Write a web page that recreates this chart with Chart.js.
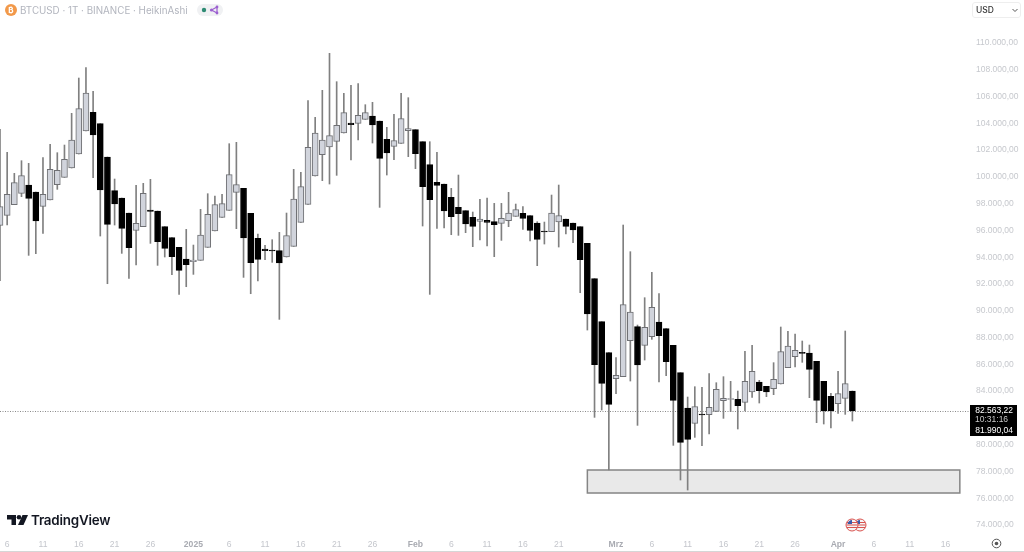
<!DOCTYPE html>
<html>
<head>
<meta charset="utf-8">
<title>BTCUSD</title>
<script src="https://cdn.jsdelivr.net/npm/chart.js@4"></script>
<style>
html, body { margin: 0; padding: 0; background: #fff; }
#wrap { position: relative; width: 1024px; height: 552px; overflow: hidden; font-family: Inter, "Liberation Sans", sans-serif; }
#wrap canvas { position: absolute; left: 0; top: 0; }
.abs { position: absolute; }
#title { left: 20px; top: 3px; font-size: 9.8px; line-height: 15px; color: #b2b5be; white-space: nowrap; }
#coin { left: 5px; top: 4px; width: 12px; height: 12px; border-radius: 50%; background: #f2994a; color: #fff; font-size: 8px; line-height: 12px; text-align: center; font-weight: 700; }
#pill { left: 197px; top: 4px; width: 26px; height: 12px; border-radius: 6px; background: #f0f1f3; }
#usd { left: 972px; top: 2px; width: 49px; height: 16px; border: 1px solid #eeeeee; border-radius: 3px; box-sizing: border-box; font-size: 8.5px; line-height: 15px; padding-left: 3px; color: #333; font-weight: 500; }
#logoText { left: 31px; top: 511px; font-size: 13.4px; line-height: 18px; font-weight: 600; color: #131722; letter-spacing: -0.2px; }
#bottomLine { left: 0; top: 551px; width: 1024px; height: 1px; background: #d6d6d6; }
</style>
</head>
<body>
<div id="wrap">
	<canvas id="chart" width="1024" height="552"></canvas>
	<div class="abs" id="coin">₿</div>
	<div class="abs" id="title">BTCUSD · 1T · BINANCE · HeikinAshi</div>
	<div class="abs" id="pill"></div>
	<svg class="abs" style="left:197px;top:4px" width="26" height="12">
		<circle cx="7" cy="6" r="2.2" fill="#2e8b73"/>
		<path d="M14.5 6 L20 3 M14.5 6 L20 9 M20 3 L20 9" stroke="#9c5fd0" stroke-width="1.2" fill="none"/>
		<circle cx="14.5" cy="6" r="1.6" fill="#9c5fd0"/><circle cx="20" cy="3" r="1.4" fill="#9c5fd0"/><circle cx="20" cy="9" r="1.4" fill="#9c5fd0"/>
	</svg>
	<div class="abs" id="usd">USD</div>
	<svg class="abs" style="left:1012px;top:8px" width="6" height="5"><path d="M0.5 1 L3 3.5 L5.5 1" stroke="#555" stroke-width="1" fill="none"/></svg>
	<svg class="abs" style="left:7px;top:515px" width="22" height="11">
		<path d="M0 0 H9 V10 H4.5 V4.5 H0 Z" fill="#131722"/>
		<circle cx="12" cy="2.3" r="2.3" fill="#131722"/>
		<path d="M15.5 0 H21 L16.5 10 H11 Z" fill="#131722"/>
	</svg>
	<div class="abs" id="logoText">TradingView</div>
	<svg class="abs" style="left:845px;top:518px" width="22" height="14">
		<g id="flag">
			<circle cx="15" cy="7" r="6" fill="#f5f5f5" stroke="#d9534f" stroke-width="1"/>
			<path d="M10 4.5 H20 M9.5 7 H20.5 M10 9.5 H20" stroke="#d9534f" stroke-width="1.1"/>
			<path d="M15 2 A5 5 0 0 0 10.5 6 H15 Z" fill="#3b5aa8"/>
			<circle cx="7" cy="7" r="6" fill="#f5f5f5" stroke="#d9534f" stroke-width="1"/>
			<path d="M2 4.5 H12 M1.5 7 H12.5 M2 9.5 H12" stroke="#d9534f" stroke-width="1.1"/>
			<path d="M7 2 A5 5 0 0 0 2.5 6 H7 Z" fill="#3b5aa8"/>
		</g>
	</svg>
	<svg class="abs" style="left:991px;top:538px" width="11" height="11">
		<circle cx="5.5" cy="5.5" r="4.3" fill="none" stroke="#555" stroke-width="1"/>
		<circle cx="5.5" cy="5.5" r="1.8" fill="#555"/>
	</svg>
	<div class="abs" id="bottomLine"></div>
</div>
<script>
//Daily Heikin Ashi candles, first one is 5 Dec 2024
var opens = [
	96380,97127,97923,98770,99392,98870,97799,98272,99417,99965,
	100662,101708,103426,104821,103974,101484,98969,98421,97301,96006,
	96280,97525,97450,96280,95458,94736,93865,93665,93765,94736,
	95956,96977,97500,98845,99143,97276,95408,94612,94537,94487,
	94014,94811,96604,97948,100065,101658,102231,102654,103277,104024,
	103999,104298,104547,104173,102804,102281,102505,103451,103526,102629,
	100911,99592,99467,98471,97724,97475,96977,96678,96753,96653,
	96529,96728,97052,97276,97102,96554,95956,95906,96628,96853,
	96554,96280,95035,92398,89185,86870,84928,85077,87766,88812,
	87418,88065,89161,88663,87418,85376,82736,81591,82288,82238,
	82487,83285,83385,83385,83161,83933,84680,84356,84182,84530,
	85750,86572,86896,86846,86223,84729,83609,83061,83459,84007
];
var closes = [
	97774,98695,99567,100090,98396,96703,98695,100563,100488,101310,
	102754,105095,106265,103127,99019,96454,97973,96155,94711,96529,
	98770,97425,95159,94661,94039,93018,93441,93790,95657,97201,
	97923,97998,100164,99417,95433,93591,93840,94487,94462,93566,
	95608,98347,99268,102206,103277,102754,103078,103850,104796,103899,
	104597,104796,103874,101384,101783,102704,104348,103601,101733,99268,
	98297,99368,97450,97027,97251,96479,96305,96853,96604,96429,
	96902,97301,97550,96902,96006,95334,95882,97301,97102,96305,
	96031,93815,89756,85973,84579,83010,85177,90455,89908,85948,
	88762,90256,88140,86197,83309,80172,80396,82836,82213,82786,
	84131,83459,83435,82912,84729,85476,84032,83933,84879,86945,
	87369,87045,86821,85626,83310,82513,82513,83808,84555,82513
];
var highs = [
	103551,101833,100264,101210,101011,98870,101434,102430,101808,102380,
	104746,107385,108157,106389,103974,101484,99841,98421,97301,99368,
	99517,99816,97450,96280,95458,94736,96081,94910,97575,98745,
	98571,98695,102480,102580,99143,97276,95732,94886,95309,95857,
	97301,100563,100339,105692,104447,106464,109228,107111,106240,106838,
	106962,105393,105568,104173,103700,104671,106240,105916,103526,102629,
	102629,101833,99467,99143,100139,97475,97376,98322,98421,98023,
	98023,98845,97973,97774,97102,96653,96628,98645,99392,96853,
	96554,96280,95035,92398,89185,86870,86496,96406,94414,88936,
	90978,92871,91277,88663,87418,85376,83558,84330,84280,85301,
	84629,85078,84729,84007,86970,87419,84804,84356,86124,88788,
	88464,88265,87742,87443,86223,84729,83833,85476,88489,84007
];
var lows = [
	92246,96404,97923,98521,94139,94263,95782,98272,99069,99965,
	100662,101708,103426,99940,95583,92022,96404,94288,92420,93416,
	96280,95035,93392,94014,92694,91225,91798,92719,93765,94736,
	95956,96977,97500,96131,92495,91275,92221,93815,93616,89358,
	94014,94811,96604,97948,100065,99716,99467,100115,103277,101260,
	102754,104298,102530,97724,100139,101285,102505,101509,100613,96330,
	91225,96155,96180,95682,95633,95832,94786,95284,94836,94039,
	95259,96280,97052,96081,95209,93367,94985,95906,94761,95732,
	95085,91350,88561,82039,82587,78105,83807,85077,84753,81442,
	86322,87866,84679,85152,79948,77358,76611,80545,79923,80794,
	82487,81965,82463,81169,82513,83534,83111,83584,83733,84530,
	85750,85800,86149,83509,81642,81542,81243,82339,82264,81766
];

//Time axis: one slot per day, with the axis running on past the last candle
var slotCount = 136;
var tickSlots = [1,6,11,16,21,27,32,37,42,47,52,58,63,68,73,78,86,91,96,101,106,111,117,122,127,132];
var tickTexts = ["6","11","16","21","26","2025","6","11","16","21","26","Feb","6","11","16","21","Mrz","6","11","16","21","26","Apr","6","11","16"];
var boldTicks = ["2025","Feb","Mrz","Apr"];
var priceTicks = [74000,76000,78000,80000,82000,84000,86000,88000,90000,92000,94000,96000,98000,100000,102000,104000,106000,108000,110000];

//Support zone and last price
var zoneFrom = 82, zoneTo = 134, zoneLow = 76389, zoneHigh = 78107;
var lastPrice = 82514;
var tagTexts = ["82.563,22","10:31:16","81.990,04"];

var categories = [];
for (var c = 0; c < slotCount; c++) {
	categories.push("");
}
for (var t = 0; t < tickSlots.length; t++) {
	categories[tickSlots[t]] = tickTexts[t];
}

var wicks = [], bodies = [], bodyFill = [], bodyLine = [];
for (var i = 0; i < opens.length; i++) {
	wicks.push([lows[i], highs[i]]);
	bodies.push([opens[i], closes[i]]);
	bodyFill.push(closes[i] >= opens[i] ? "#d1d4dc" : "#000000");
	bodyLine.push(closes[i] >= opens[i] ? "#6f7074" : "#000000");
}

//German number format for the price axis
function formatPrice(v) {
	return Math.floor(v / 1000) + "." + ("00" + (v % 1000)).slice(-3) + ",00";
}

var overlays = {
	id: "overlays",
	beforeDatasetsDraw: function(chart) {
		var ctx = chart.ctx, x = chart.scales.x, y = chart.scales.y;
		//zone box sits under the candles
		var left = x.getPixelForValue(zoneFrom), right = x.getPixelForValue(zoneTo);
		var top = y.getPixelForValue(zoneHigh), bottom = y.getPixelForValue(zoneLow);
		ctx.save();
		ctx.fillStyle = "#e9e9e9";
		ctx.strokeStyle = "#858585";
		ctx.lineWidth = 1.5;
		ctx.fillRect(left, top, right - left, bottom - top);
		ctx.strokeRect(left, top, right - left, bottom - top);
		//dotted last price line
		var py = Math.round(y.getPixelForValue(lastPrice)) + 0.5;
		ctx.strokeStyle = "#8a8a8a";
		ctx.lineWidth = 1;
		ctx.setLineDash([1, 1.5]);
		ctx.beginPath();
		ctx.moveTo(0, py);
		ctx.lineTo(chart.chartArea.right + 3, py);
		ctx.stroke();
		ctx.restore();
	},
	afterDraw: function(chart) {
		var ctx = chart.ctx, y = chart.scales.y;
		var py = y.getPixelForValue(lastPrice);
		ctx.save();
		ctx.fillStyle = "#000000";
		ctx.fillRect(970, py - 6, 47, 31);
		ctx.fillStyle = "#ffffff";
		ctx.font = "8.5px 'Liberation Sans', sans-serif";
		ctx.textBaseline = "middle";
		ctx.textAlign = "right";
		ctx.fillText(tagTexts[0], 1013, py - 0.5);
		ctx.fillText(tagTexts[2], 1013, py + 19.5);
		ctx.textAlign = "left";
		ctx.fillStyle = "#c8c8c8";
		ctx.fillText(tagTexts[1], 975, py + 9);
		ctx.restore();
	}
};

var chart = new Chart(document.getElementById("chart").getContext("2d"), {
	type: "bar",
	plugins: [overlays],
	data: {
		labels: categories,
		datasets: [{
			label: "Body",
			data: bodies,
			grouped: false,
			barThickness: 6,
			backgroundColor: bodyFill,
			borderColor: bodyLine,
			borderWidth: 1,
			borderSkipped: false,
			order: 1
		}, {
			label: "Wick",
			data: wicks,
			grouped: false,
			barThickness: 1,
			backgroundColor: "#808080",
			borderWidth: 0,
			order: 2
		}]
	},
	options: {
		responsive: false,
		animation: false,
		events: [],
		layout: { padding: 0 },
		plugins: { legend: { display: false }, tooltip: { enabled: false } },
		scales: {
			x: {
				type: "category",
				offset: false,
				grid: { display: false, drawTicks: false },
				border: { display: false },
				afterFit: function(scale) {
					scale.height = 16;
					scale.paddingLeft = 0;
					scale.paddingRight = 0;
				},
				ticks: {
					autoSkip: false,
					maxRotation: 0,
					minRotation: 0,
					padding: 3,
					color: function(ctx) { return boldTicks.indexOf(ctx.tick.label) >= 0 ? "#a9abb2" : "#c4c6cc"; },
					font: function(ctx) {
						return { family: "Liberation Sans", size: 8.6, weight: boldTicks.indexOf(ctx.tick.label) >= 0 ? "700" : "400" };
					}
				}
			},
			y: {
				type: "linear",
				position: "right",
				min: 73178,
				max: 113212,
				grid: { display: false, drawTicks: false },
				border: { display: false },
				afterFit: function(scale) {
					scale.width = 57;
					scale.paddingTop = 0;
					scale.paddingBottom = 0;
				},
				afterBuildTicks: function(scale) {
					scale.ticks = priceTicks.map(function(v) { return { value: v }; });
				},
				ticks: {
					color: "#c6c8cd",
					padding: 9,
					font: { family: "Liberation Sans", size: 8.5 },
					callback: function(v) { return formatPrice(v); }
				}
			}
		}
	}
});
</script>
</body>
</html>
